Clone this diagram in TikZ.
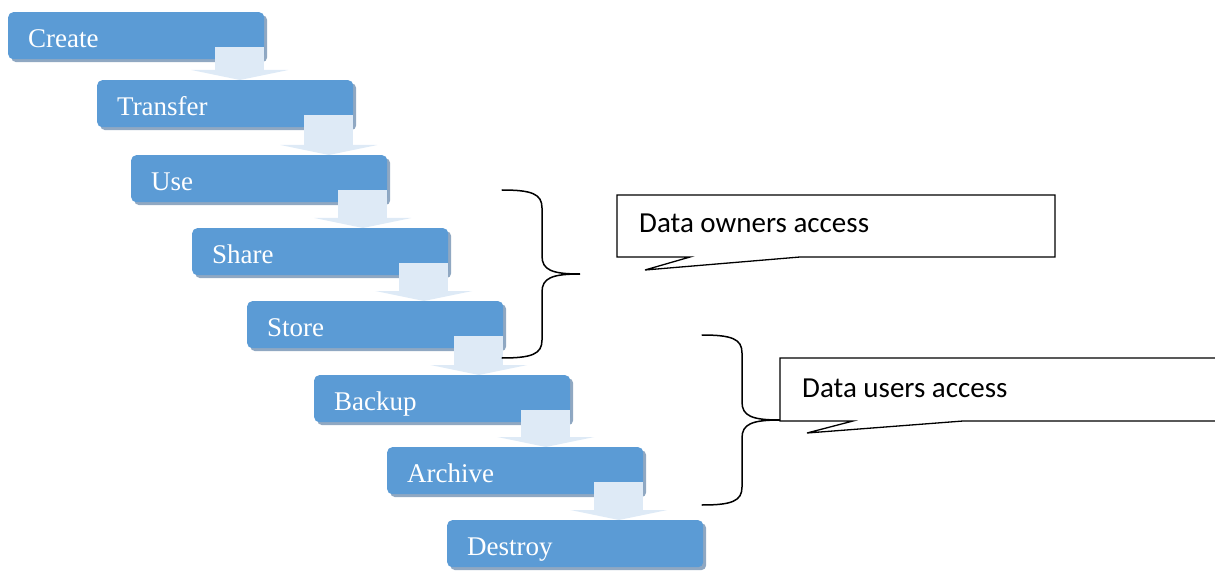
\documentclass[tikz,border=0pt]{standalone}
\usepackage{fontspec}
\setmainfont{Liberation Serif}
\newfontfamily\calibri{Carlito}
\usetikzlibrary{calc,shadows}
\definecolor{stepblue}{HTML}{5B9BD5}
\definecolor{stepshade}{HTML}{90A8C2}
\definecolor{flowblue}{HTML}{DEEAF6}
\begin{document}
\begin{tikzpicture}[
 x=1pt,y=-1pt,
 stepbox/.style={fill=stepblue,rounded corners=5pt,anchor=north west,
  minimum width=256pt,minimum height=47pt,text width=216pt,inner xsep=20pt,inner ysep=0pt,
  text height=24pt,text depth=1pt,align=left,text=white,font=\fontsize{27}{29}\selectfont,
  drop shadow={shadow xshift=3pt,shadow yshift=-3pt,fill=stepshade,opacity=1}},
 flow/.style={fill=flowblue},
 bubble/.style={draw,fill=white,line width=1.3pt,line join=miter},
 brace/.style={draw,line width=1.5pt,line cap=round},
 every node/.style={}]
 \path[use as bounding box,clip] (0,0) rectangle (1215,580);
 % lifecycle steps
 \foreach \lab/\sx/\sy [count=\i] in {Create/8/12,Transfer/97/80,Use/131/155,Share/192/228,
   Store/247/301,Backup/314/375,Archive/387/447,Destroy/447/520}{
  \node[stepbox] (s\i) at (\sx,\sy) {\lab};
 }
 % block arrows between the steps
 \foreach \i [count=\j from 2] in {1,...,7}{
  \coordinate (r) at (s\i.south east);
  \coordinate (n) at (s\i.south east |- s\j.north);
  \fill[flow] ($(r)+(-49,-12)$) rectangle ($(n)+(0,-10)$);
  \fill[flow] ($(n)+(-73,-10)$) -- ($(n)+(24,-10)$) -- ($(n)+(-24.5,0)$) -- cycle;
 }
 % braces
 \foreach \bx/\ytop/\ybot in {502/190/358,702/335/505}{
  \pgfmathsetmacro\ymid{(\ytop+\ybot)/2}
  \draw[brace] (\bx,\ytop) .. controls (\bx+30,\ytop) and (\bx+40,\ytop+4) .. (\bx+40,\ytop+18)
   -- (\bx+40,\ymid-18) .. controls (\bx+40,\ymid-4) and (\bx+50,\ymid) .. (\bx+78,\ymid)
   .. controls (\bx+50,\ymid) and (\bx+40,\ymid+4) .. (\bx+40,\ymid+18)
   -- (\bx+40,\ybot-18) .. controls (\bx+40,\ybot-4) and (\bx+30,\ybot) .. (\bx,\ybot);
 }
 % callouts
 \draw[bubble] (617,195) -- (1055,195) -- (1055,257) -- (800,257) -- (645,270) -- (690,257)
  -- (617,257) -- cycle;
 \node[anchor=base west,inner sep=0pt,font=\calibri\fontsize{29}{31}\selectfont] (owners)
  at (639,233) {Data owners access};
 \draw[bubble] (780,358) -- (1230,358) -- (1230,421) -- (963,421) -- (807,433) -- (853,421)
  -- (780,421) -- cycle;
 \node[anchor=base west,inner sep=0pt,font=\calibri\fontsize{29}{31}\selectfont] (users)
  at (802,397) {Data users access};
\end{tikzpicture}
\end{document}
